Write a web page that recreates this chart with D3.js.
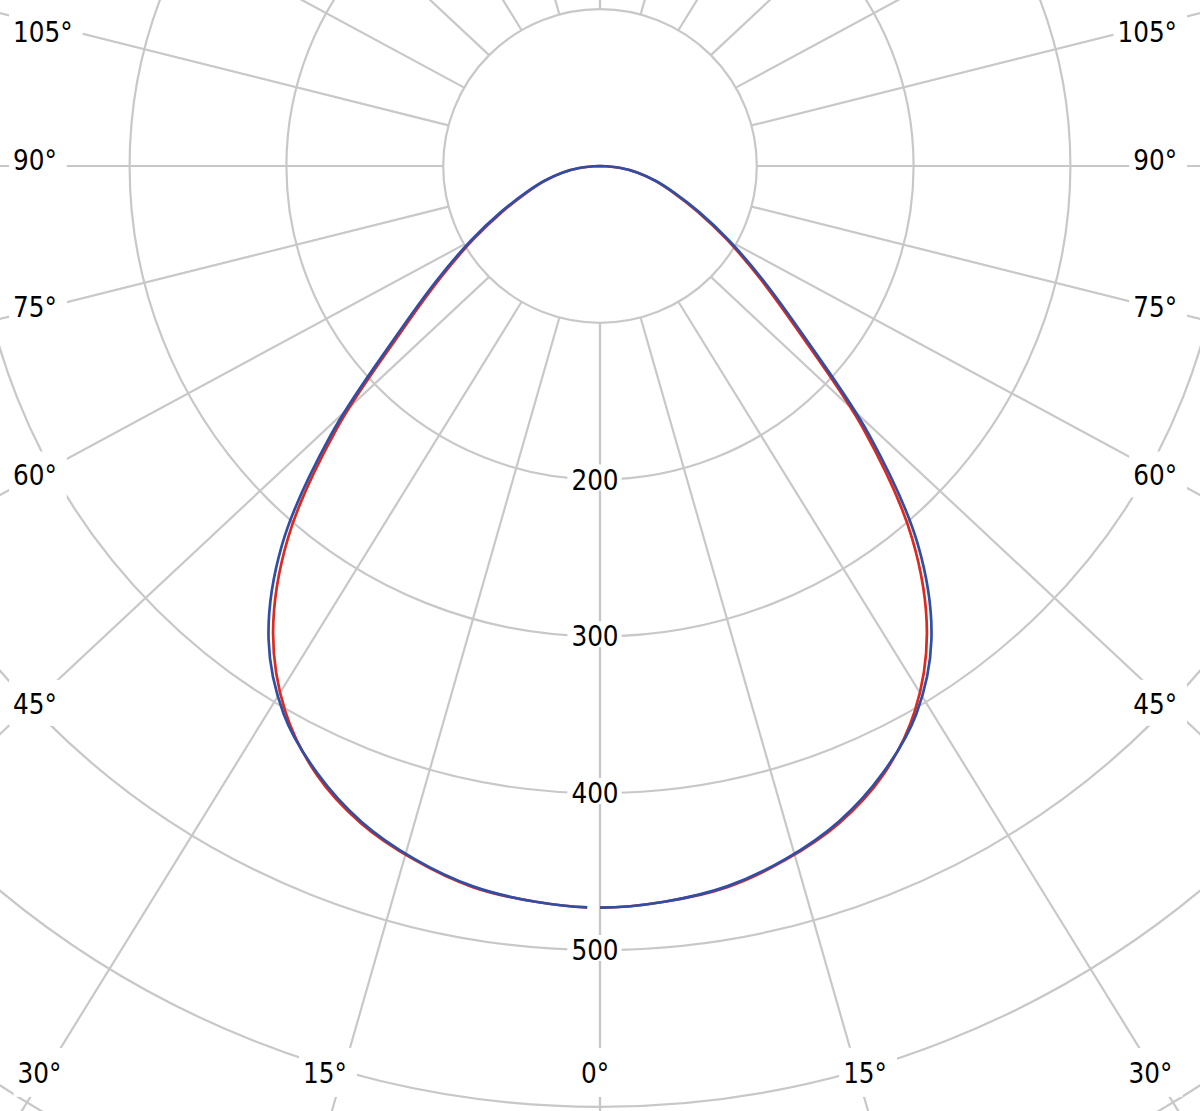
<!DOCTYPE html>
<html>
<head>
<meta http-equiv="Content-type" content="text/html; charset=utf-8">
<title>Luminous intensity distribution</title>
<script src="https://cdn.jsdelivr.net/npm/d3@7"></script>
<style>
  body { margin: 0; background: #fff; }
  text { font-family: "DejaVu Sans Condensed", "DejaVu Sans", sans-serif; font-stretch: condensed; font-size: 27.5px; fill: #000; }
</style>
</head>
<body>
<div id="chart"></div>
<script>
// gamma angles (deg from nadir) and intensity per plane, mirrored left/right
var angles = [0, 5, 10, 15, 20, 25, 30, 35, 40, 45, 50, 55, 60, 65, 70, 75, 80, 85, 90];
var planeRed = [473, 471, 467, 458, 446, 428, 401.5, 363.5, 309.5, 238, 167, 124, 93, 68.5, 50, 36.5, 24.5, 12.5, 0];
var planeBlue = [473, 471, 466.5, 457.5, 445, 427, 403.5, 368.5, 315.5, 243, 171, 127, 95, 70, 51, 37, 24.5, 12.5, 0];
var ringValues = [100, 200, 300, 400, 500, 600, 700, 800];
var ringLabels = [200, 300, 400, 500];
var spokeAngles = [0, 15, 30, 45, 60, 75, 90, 105, 120, 135, 150, 165, 180];
var sideLabels = [45, 60, 75, 90, 105];
var bottomLabels = [0, 15, 30];

var width = 1200, height = 1111;
var cx = 600, cy = 166;
var skew = 1.07;

var r = d3.scaleLinear().domain([0, 500]).range([0, 784]);
var innerR = r(100);

var svg = d3.select('#chart').append('svg')
  .attr('width', width)
  .attr('height', height);
svg.append('rect').attr('width', width).attr('height', height).attr('fill', '#fff');

var g = svg.append('g').attr('transform', 'translate(' + cx + ',' + cy + ')');
var grid = g.append('g')
  .attr('fill', 'none')
  .attr('stroke', '#c8c8c8')
  .attr('stroke-width', 2.2);

grid.selectAll('circle')
  .data(ringValues)
  .enter()
  .append('circle')
  .attr('r', function(d) { return r(d); });

// spoke starting on the inner ring
function spoke(theta, side) {
  var t = theta * Math.PI / 180;
  var dx = side * skew * Math.sin(t), dy = Math.cos(t);
  var n = Math.hypot(dx, dy);
  return { x0: side * innerR * Math.sin(t), y0: innerR * Math.cos(t), dx: dx / n, dy: dy / n };
}

var spokes = [];
spokeAngles.forEach(function(a) {
  spokes.push(spoke(a, -1));
  spokes.push(spoke(a, 1));
});
grid.selectAll('line')
  .data(spokes)
  .enter()
  .append('line')
  .attr('x1', function(d) { return d.x0; })
  .attr('y1', function(d) { return d.y0; })
  .attr('x2', function(d) { return d.x0 + 2000 * d.dx; })
  .attr('y2', function(d) { return d.y0 + 2000 * d.dy; });

// curves
var radial = d3.lineRadial()
  .angle(function(d) { return Math.PI - d.a * Math.PI / 180; })
  .radius(function(d) { return r(d.v); })
  .curve(d3.curveCatmullRom);

function planePoints(values) {
  var pts = [];
  for (var i = angles.length - 1; i > 0; i--) pts.push({ a: -angles[i], v: values[i] });
  for (var j = 0; j < angles.length; j++) pts.push({ a: angles[j], v: values[j] });
  return pts;
}

var curves = [
  { name: 'red', values: planeRed, color: '#dc2a20' },
  { name: 'blue', values: planeBlue, color: '#2f4fa6' }
];
g.selectAll('path.curve')
  .data(curves)
  .enter()
  .append('path')
  .attr('class', 'curve')
  .attr('fill', 'none')
  .attr('stroke', function(d) { return d.color; })
  .attr('stroke-width', 2.7)
  .attr('d', function(d) { return radial(planePoints(d.values)); })
  .attr('stroke-dasharray', function() {
    // small break just left of nadir, where the two half-planes meet
    var half = this.getTotalLength() / 2;
    return (half - 13) + ',13,' + (half + 20);
  });

// labels with white knockouts
function addLabel(x, y, txt, anchor, pad) {
  var grp = svg.append('g');
  var rect = grp.append('rect').attr('fill', '#fff');
  var t = grp.append('text')
    .attr('x', x)
    .attr('y', y)
    .attr('dy', '0.36em')
    .attr('text-anchor', anchor)
    .text(txt);
  var bb = t.node().getBBox();
  rect.attr('x', bb.x - pad[0])
    .attr('y', bb.y - pad[1])
    .attr('width', bb.width + pad[0] + pad[2])
    .attr('height', bb.height + pad[1] + pad[3]);
}

ringLabels.forEach(function(v) {
  addLabel(595, cy + r(v), v, 'middle', [4, -1, 3, -5]);
});

sideLabels.forEach(function(a) {
  var s = spoke(a, -1);
  var y = cy + s.y0;
  if (Math.abs(s.dx) > 1e-6) y = cy + s.y0 + ((33 - cx - s.x0) / s.dx) * s.dy;
  y = Math.max(y - 6 + (90 - a) * 0.15, 32);
  addLabel(13, y, a + '°', 'start', [4, 8, 10, 6]);
  addLabel(1177, y, a + '°', 'end', [4, 8, 10, 6]);
});

bottomLabels.forEach(function(a) {
  var sides = a === 0 ? [1] : [-1, 1];
  sides.forEach(function(side) {
    var s = spoke(a, side);
    var yq = 1073;
    var x = cx + s.x0 + ((yq - cy - s.y0) / s.dy) * s.dx;
    var d = Math.min(Math.abs(x - cx) * 1.05, 555.5);
    addLabel(595 + side * d, yq, a + '°', 'middle', [4, 9, 10, 8]);
  });
});
</script>
</body>
</html>
